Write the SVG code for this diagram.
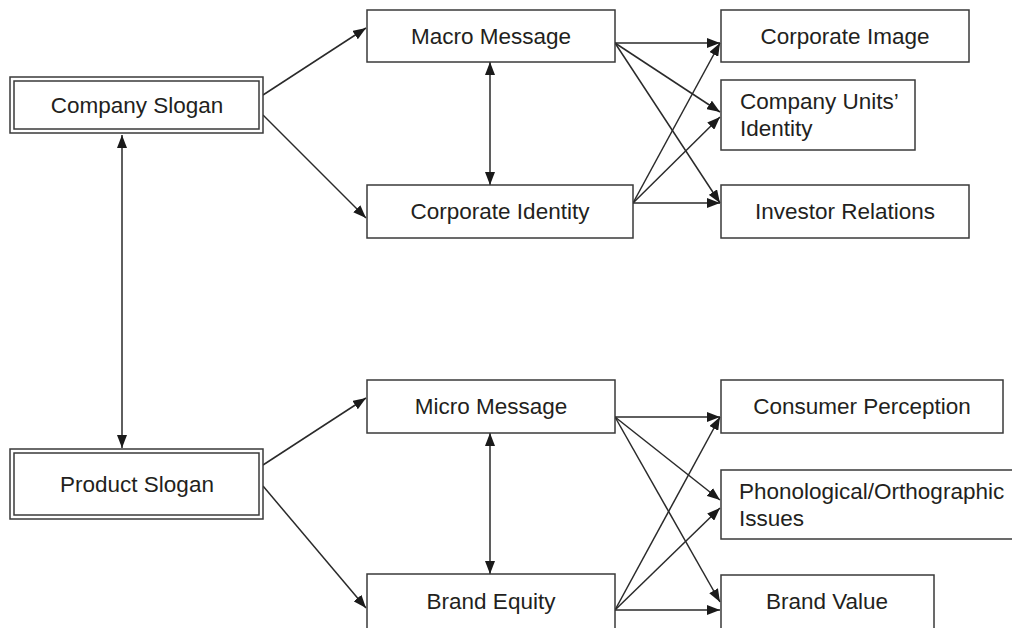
<svg xmlns="http://www.w3.org/2000/svg" width="1012" height="628" viewBox="0 0 1012 628">
  <style>
    .box { fill: #fff; stroke: #3a3a3a; stroke-width: 1.5; }
    .lbl { font-family: "Liberation Sans", Arial, sans-serif; font-size: 22.5px; fill: #231f20; }
    .mid { text-anchor: middle; }
    .wire { stroke: #2a2a2a; stroke-width: 1.5; fill: none; }
  </style>
  <defs>
    <marker id="ah" viewBox="0 0 13 10" refX="13" refY="5" markerWidth="13" markerHeight="10" markerUnits="userSpaceOnUse" orient="auto-start-reverse">
      <path d="M0,0 L13,5 L0,10 Z" fill="#1a1a1a"/>
    </marker>
  </defs>
  <rect width="1012" height="628" fill="#fff"/>

  <g id="connectors">
    <line class="wire" x1="263" y1="95" x2="366" y2="28" marker-end="url(#ah)"/>
    <line class="wire" x1="263" y1="115" x2="366" y2="218" marker-end="url(#ah)"/>
    <line class="wire" x1="122" y1="135" x2="122" y2="448" marker-start="url(#ah)" marker-end="url(#ah)"/>
    <line class="wire" x1="490" y1="62" x2="490" y2="185" marker-start="url(#ah)" marker-end="url(#ah)"/>
    <line class="wire" x1="615" y1="43" x2="720" y2="43" marker-end="url(#ah)"/>
    <line class="wire" x1="615" y1="43" x2="720" y2="112" marker-end="url(#ah)"/>
    <line class="wire" x1="615" y1="43" x2="720" y2="203" marker-end="url(#ah)"/>
    <line class="wire" x1="633" y1="203" x2="720" y2="203" marker-end="url(#ah)"/>
    <line class="wire" x1="633" y1="203" x2="720" y2="43" marker-end="url(#ah)"/>
    <line class="wire" x1="633" y1="203" x2="720" y2="117" marker-end="url(#ah)"/>

    <line class="wire" x1="263" y1="465" x2="366" y2="398" marker-end="url(#ah)"/>
    <line class="wire" x1="263" y1="486" x2="366" y2="608" marker-end="url(#ah)"/>
    <line class="wire" x1="490" y1="433" x2="490" y2="574" marker-start="url(#ah)" marker-end="url(#ah)"/>
    <line class="wire" x1="615" y1="417" x2="720" y2="417" marker-end="url(#ah)"/>
    <line class="wire" x1="615" y1="417" x2="720" y2="500" marker-end="url(#ah)"/>
    <line class="wire" x1="615" y1="417" x2="720" y2="602" marker-end="url(#ah)"/>
    <line class="wire" x1="615" y1="610" x2="720" y2="610" marker-end="url(#ah)"/>
    <line class="wire" x1="615" y1="610" x2="720" y2="417" marker-end="url(#ah)"/>
    <line class="wire" x1="615" y1="610" x2="720" y2="508" marker-end="url(#ah)"/>
  </g>

  <g id="company-slogan">
    <rect class="box" x="10" y="77" width="253" height="56"/>
    <rect class="box" x="14" y="81" width="245" height="48"/>
    <text class="lbl mid" x="137" y="113">Company Slogan</text>
  </g>
  <g id="product-slogan">
    <rect class="box" x="10" y="449" width="253" height="70"/>
    <rect class="box" x="14" y="453" width="245" height="62"/>
    <text class="lbl mid" x="137" y="492">Product Slogan</text>
  </g>

  <g id="macro-message">
    <rect class="box" x="367" y="10" width="248" height="52"/>
    <text class="lbl mid" x="491" y="44">Macro Message</text>
  </g>
  <g id="corporate-identity">
    <rect class="box" x="367" y="185" width="266" height="53"/>
    <text class="lbl mid" x="500" y="219">Corporate Identity</text>
  </g>
  <g id="corporate-image">
    <rect class="box" x="721" y="10" width="248" height="52"/>
    <text class="lbl mid" x="845" y="44">Corporate Image</text>
  </g>
  <g id="company-units-identity">
    <rect class="box" x="721" y="80" width="194" height="70"/>
    <text class="lbl" x="740" y="109">Company Units’</text>
    <text class="lbl" x="740" y="136">Identity</text>
  </g>
  <g id="investor-relations">
    <rect class="box" x="721" y="185" width="248" height="53"/>
    <text class="lbl mid" x="845" y="219">Investor Relations</text>
  </g>

  <g id="micro-message">
    <rect class="box" x="367" y="380" width="248" height="53"/>
    <text class="lbl mid" x="491" y="414">Micro Message</text>
  </g>
  <g id="brand-equity">
    <rect class="box" x="367" y="574" width="248" height="70"/>
    <text class="lbl mid" x="491" y="609">Brand Equity</text>
  </g>
  <g id="consumer-perception">
    <rect class="box" x="721" y="380" width="282" height="53"/>
    <text class="lbl mid" x="862" y="414">Consumer Perception</text>
  </g>
  <g id="phonological-orthographic-issues">
    <rect class="box" x="721" y="470" width="300" height="69"/>
    <text class="lbl" x="739" y="499">Phonological/Orthographic</text>
    <text class="lbl" x="739" y="526">Issues</text>
  </g>
  <g id="brand-value">
    <rect class="box" x="721" y="575" width="213" height="70"/>
    <text class="lbl mid" x="827" y="609">Brand Value</text>
  </g>
</svg>
